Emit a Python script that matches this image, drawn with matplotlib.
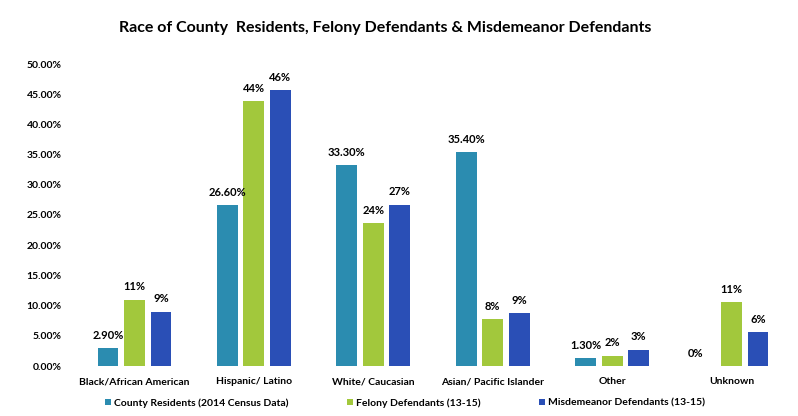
import matplotlib
matplotlib.use('Agg')
import matplotlib.pyplot as plt
import numpy as np

plt.rcParams['font.family'] = ['Lato', 'DejaVu Sans']
plt.rcParams['font.weight'] = 'bold'

categories = ['Black/African American', 'Hispanic/ Latino', 'White/ Caucasian',
              'Asian/ Pacific Islander', 'Other', 'Unknown']
series_names = ['County Residents (2014 Census Data)', 'Felony Defendants (13-15)',
                'Misdemeanor Defendants (13-15)']
county = [2.9, 26.6, 33.3, 35.4, 1.3, 0.0]
felony = [11.0, 43.8, 23.7, 7.7, 1.7, 10.6]
misdemeanor = [9.0, 45.7, 26.7, 8.7, 2.7, 5.6]
county_labels = ['2.90%', '26.60%', '33.30%', '35.40%', '1.30%', '0%']
felony_labels = ['11%', '44%', '24%', '8%', '2%', '11%']
misdemeanor_labels = ['9%', '46%', '27%', '9%', '3%', '6%']

colors = ['#2b8cb0', '#a2c83c', '#2a4fb6']

fig = plt.figure(figsize=(7.98, 4.16), dpi=100)
ax = fig.add_axes([70 / 798, 50 / 416, 720 / 798, 302 / 416])

x = np.arange(len(categories))
width = 0.175
offset = 0.222
series = [county, felony, misdemeanor]
labels = [county_labels, felony_labels, misdemeanor_labels]
for i, (vals, labs) in enumerate(zip(series, labels)):
    pos = x + (i - 1) * offset
    ax.bar(pos, vals, width, color=colors[i], label=series_names[i])
    for p, v, t in zip(pos, vals, labs):
        ax.text(p - 0.08 if i == 0 and v == 0 else p, v + 1.2, t,
                ha='center', va='bottom', fontsize=8, fontweight='bold')

ax.set_xlim(-0.54, 5.49)
ax.set_ylim(0, 50)
ax.set_yticks(np.arange(0, 51, 5))
ax.set_yticklabels(['%.2f%%' % v for v in np.arange(0, 51, 5)])
ax.set_xticks(x)
ax.set_xticklabels(categories)
ax.tick_params(axis='both', length=0, labelsize=7.5)
ax.tick_params(axis='x', pad=8)
ax.tick_params(axis='y', pad=6)
for s in ax.spines.values():
    s.set_visible(False)

fig.text(385 / 798, 1 - 28 / 416,
         'Race of County  Residents, Felony Defendants & Misdemeanor Defendants',
         ha='center', va='center', fontsize=11.5, fontweight='bold')

fig.legend(loc='center', bbox_to_anchor=(405 / 798, 1 - 403 / 416), ncol=3,
           frameon=False, fontsize=7.5, handlelength=0.55, handleheight=0.55,
           handletextpad=0.3, columnspacing=5.6)

fig.savefig('out.png', dpi=100, facecolor='white')
